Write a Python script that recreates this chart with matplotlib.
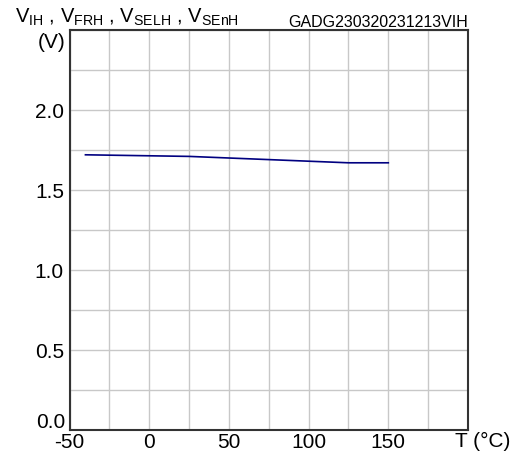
import numpy as np
import matplotlib.pyplot as plt
from matplotlib.ticker import MultipleLocator

plt.rcParams['font.family'] = ['Liberation Sans', 'DejaVu Sans']

# Data
temp = [-40, 25, 75, 125, 150]
volt = [1.72, 1.71, 1.69, 1.67, 1.67]

x_ticks = [-50, 0, 50, 100, 150]
x_labels = ['-50', '0', '50', '100', '150']
y_ticks = [0.5, 1.0, 1.5, 2.0]
y_labels = ['0.5', '1.0', '1.5', '2.0']

fig = plt.figure(figsize=(5.26, 4.57), dpi=100)
ax = fig.add_axes([69.5 / 526, 27 / 457, 398.5 / 526, 400 / 457])

ax.plot(temp, volt, color='#000080', linewidth=1.2, zorder=3)

ax.set_xlim(-50, 200)
ax.set_ylim(0, 2.5)
ax.set_xticks(x_ticks)
ax.set_xticklabels(x_labels)
ax.set_yticks(y_ticks)
ax.set_yticklabels(y_labels)
ax.xaxis.set_minor_locator(MultipleLocator(25))
ax.yaxis.set_minor_locator(MultipleLocator(0.25))
ax.tick_params(which='both', length=0, labelsize=15)
ax.tick_params(axis='x', pad=2)
ax.tick_params(axis='y', pad=4)
ax.grid(which='both', color='#c8c8c8', linewidth=1.0)
ax.set_axisbelow(True)
for s in ax.spines.values():
    s.set_linewidth(1.5)
    s.set_color('#333333')

# Edge labels that are shifted inward in the original
ax.annotate('0.0', xy=(0, 0), xycoords=('axes fraction', 'data'),
            xytext=(-4, -2), textcoords='offset pixels',
            ha='right', va='bottom', fontsize=15)
ax.annotate('(V)', xy=(0, 2.5), xycoords=('axes fraction', 'data'),
            xytext=(-4, -3), textcoords='offset pixels',
            ha='right', va='top', fontsize=15)
ax.annotate('T (°C)', xy=(1, 0), xycoords='axes fraction',
            xytext=(-13, -2), textcoords='offset pixels',
            ha='left', va='top', fontsize=15)

# Header texts
fig.text(15 / 526, 1 - 23 / 457,
         r'$\mathregular{V_{IH}}$ , $\mathregular{V_{FRH}}$ , '
         r'$\mathregular{V_{SELH}}$ , $\mathregular{V_{SEnH}}$',
         fontsize=14.5, ha='left', va='baseline')
fig.text(468 / 526, 1 - 27 / 457, 'GADG230320231213VIH',
         fontsize=11.5, ha='right', va='baseline')

fig.savefig('out.png', dpi=100)
